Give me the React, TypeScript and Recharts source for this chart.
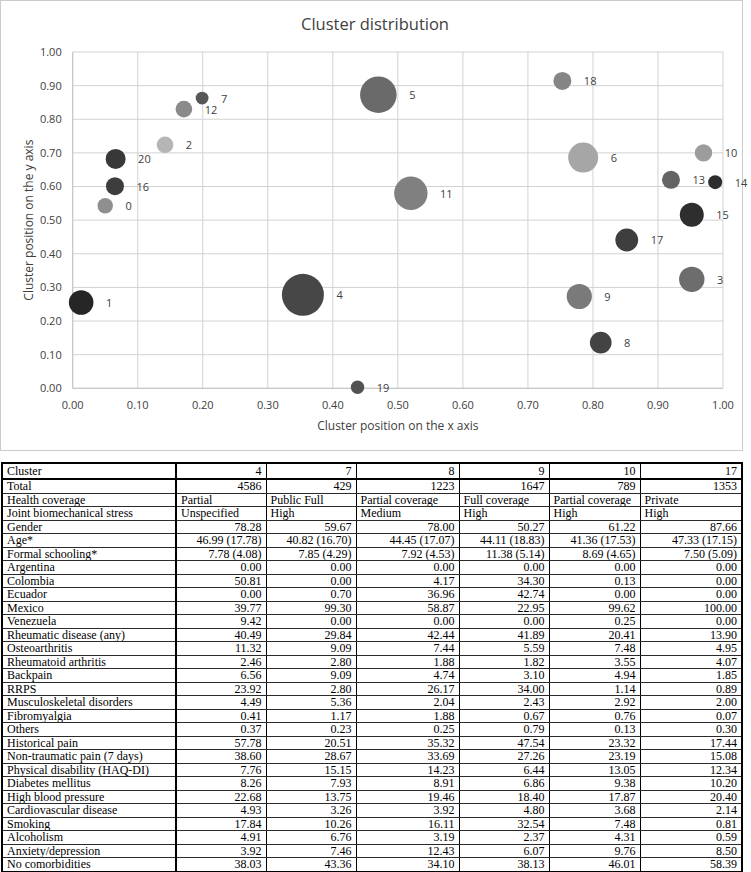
import React from "react";
import {
  ScatterChart,
  Scatter,
  XAxis,
  YAxis,
  ZAxis,
  CartesianGrid,
} from "recharts";

// bubble chart data (cluster id, position, cluster size)
const clusterIds = [0, 1, 2, 3, 4, 5, 6, 7, 8, 9, 10, 11, 12, 13, 14, 15, 16, 17, 18, 19, 20];
const xPosition = [0.05, 0.013, 0.142, 0.952, 0.354, 0.47, 0.785, 0.199, 0.812, 0.779, 0.97, 0.52, 0.171, 0.92, 0.988, 0.952, 0.065, 0.852, 0.753, 0.438, 0.066];
const yPosition = [0.543, 0.255, 0.724, 0.324, 0.278, 0.873, 0.686, 0.863, 0.136, 0.273, 0.7, 0.58, 0.83, 0.62, 0.613, 0.516, 0.601, 0.441, 0.914, 0.003, 0.682];
const clusterSize = [617, 1573, 716, 1677, 4586, 3482, 2340, 429, 1223, 1647, 789, 2900, 716, 842, 510, 1498, 842, 1353, 842, 467, 1040];
const axisTicks = [0, 0.1, 0.2, 0.3, 0.4, 0.5, 0.6, 0.7, 0.8, 0.9, 1];

// table
const tableClusters = ["4", "7", "8", "9", "10", "17"];
const tableRows: [string, string[], boolean][] = [
  ["Total", ["4586", "429", "1223", "1647", "789", "1353"], false],
  ["Health coverage", ["Partial", "Public Full", "Partial coverage", "Full coverage", "Partial coverage", "Private"], true],
  ["Joint biomechanical stress", ["Unspecified", "High", "Medium", "High", "High", "High"], true],
  ["Gender", ["78.28", "59.67", "78.00", "50.27", "61.22", "87.66"], false],
  ["Age*", ["46.99 (17.78)", "40.82 (16.70)", "44.45 (17.07)", "44.11 (18.83)", "41.36 (17.53)", "47.33 (17.15)"], false],
  ["Formal schooling*", ["7.78 (4.08)", "7.85 (4.29)", "7.92 (4.53)", "11.38 (5.14)", "8.69 (4.65)", "7.50 (5.09)"], false],
  ["Argentina", ["0.00", "0.00", "0.00", "0.00", "0.00", "0.00"], false],
  ["Colombia", ["50.81", "0.00", "4.17", "34.30", "0.13", "0.00"], false],
  ["Ecuador", ["0.00", "0.70", "36.96", "42.74", "0.00", "0.00"], false],
  ["Mexico", ["39.77", "99.30", "58.87", "22.95", "99.62", "100.00"], false],
  ["Venezuela", ["9.42", "0.00", "0.00", "0.00", "0.25", "0.00"], false],
  ["Rheumatic disease (any)", ["40.49", "29.84", "42.44", "41.89", "20.41", "13.90"], false],
  ["Osteoarthritis", ["11.32", "9.09", "7.44", "5.59", "7.48", "4.95"], false],
  ["Rheumatoid arthritis", ["2.46", "2.80", "1.88", "1.82", "3.55", "4.07"], false],
  ["Backpain", ["6.56", "9.09", "4.74", "3.10", "4.94", "1.85"], false],
  ["RRPS", ["23.92", "2.80", "26.17", "34.00", "1.14", "0.89"], false],
  ["Musculoskeletal disorders", ["4.49", "5.36", "2.04", "2.43", "2.92", "2.00"], false],
  ["Fibromyalgia", ["0.41", "1.17", "1.88", "0.67", "0.76", "0.07"], false],
  ["Others", ["0.37", "0.23", "0.25", "0.79", "0.13", "0.30"], false],
  ["Historical pain", ["57.78", "20.51", "35.32", "47.54", "23.32", "17.44"], false],
  ["Non-traumatic pain (7 days)", ["38.60", "28.67", "33.69", "27.26", "23.19", "15.08"], false],
  ["Physical disability (HAQ-DI)", ["7.76", "15.15", "14.23", "6.44", "13.05", "12.34"], false],
  ["Diabetes mellitus", ["8.26", "7.93", "8.91", "6.86", "9.38", "10.20"], false],
  ["High blood pressure", ["22.68", "13.75", "19.46", "18.40", "17.87", "20.40"], false],
  ["Cardiovascular disease", ["4.93", "3.26", "3.92", "4.80", "3.68", "2.14"], false],
  ["Smoking", ["17.84", "10.26", "16.11", "32.54", "7.48", "0.81"], false],
  ["Alcoholism", ["4.91", "6.76", "3.19", "2.37", "4.31", "0.59"], false],
  ["Anxiety/depression", ["3.92", "7.46", "12.43", "6.07", "9.76", "8.50"], false],
  ["No comorbidities", ["38.03", "43.36", "34.10", "38.13", "46.01", "58.39"], false],
];

const BUBBLE_FILLS = [
  "#8f8f8f", "#262626", "#b5b5b5", "#6d6d6d", "#474747", "#6a6a6a", "#a6a6a6",
  "#575757", "#434343", "#7a7a7a", "#9c9c9c", "#808080", "#8a8a8a", "#646464",
  "#2d2d2d", "#2e2e2e", "#3d3d3d", "#3e3e3e", "#858585", "#525252", "#383838",
];
const COL_WIDTHS = [174, 90, 90, 103, 90, 91, 102];
const SANS = '"Open Sans", sans-serif';
const SERIF = '"Liberation Serif", "Times New Roman", serif';

const bubbles = clusterIds.map((id, i) => ({
  id,
  x: xPosition[i],
  y: yPosition[i],
  size: clusterSize[i],
}));

const MAX_RADIUS = 21;

function Bubble(props: any) {
  const { cx, cy, size, width, payload } = props;
  const r = size != null ? Math.sqrt(size / Math.PI) : width / 2;
  return (
    <g>
      <circle cx={cx} cy={cy} r={r} fill={BUBBLE_FILLS[payload.id]} />
      <text
        x={cx + r + 12.5}
        y={cy}
        dominantBaseline="central"
        fontFamily={SANS}
        fontSize={11}
        fill="#404040"
      >
        {payload.id}
      </text>
    </g>
  );
}

const fmt = (v: number) => v.toFixed(2);

function ClusterChart() {
  return (
    <div style={{ position: "absolute", left: 0, top: 0, width: 751, height: 451 }}>
      <div
        style={{
          position: "absolute",
          left: 0,
          top: 0,
          width: 743,
          height: 451,
          boxSizing: "border-box",
          border: "1.5px solid #cbcbcb",
          background: "#fff",
        }}
      />
      <div
        style={{
          position: "absolute",
          left: 0,
          width: 750,
          top: 12,
          textAlign: "center",
          fontFamily: SANS,
          fontSize: 16.5,
          color: "#404040",
        }}
      >
        Cluster distribution
      </div>
      <ScatterChart
        width={751}
        height={451}
        margin={{ top: 52, right: 28, bottom: 0, left: 0 }}
        style={{ position: "absolute", left: 0, top: 0, overflow: "visible" }}
      >
        <CartesianGrid stroke="#d2d2d2" strokeWidth={1} />
        <XAxis
          type="number"
          dataKey="x"
          domain={[0, 1]}
          ticks={axisTicks}
          tickFormatter={fmt}
          height={62.7}
          tickSize={0}
          tickMargin={13}
          axisLine={{ stroke: "#c4c4c4" }}
          tick={{ fontFamily: SANS, fontSize: 11, fill: "#404040" }}
          label={{
            content: (p: any) => {
              const vb = p.viewBox;
              return (
                <text
                  x={vb.x + vb.width / 2}
                  y={vb.y + 37}
                  textAnchor="middle"
                  dominantBaseline="central"
                  fontFamily={SANS}
                  fontSize={12}
                  fill="#404040"
                >
                  Cluster position on the x axis
                </text>
              );
            },
          }}
        />
        <YAxis
          type="number"
          dataKey="y"
          domain={[0, 1]}
          ticks={axisTicks}
          tickFormatter={fmt}
          width={72.7}
          tickSize={0}
          tickMargin={11}
          axisLine={{ stroke: "#c4c4c4" }}
          tick={{ fontFamily: SANS, fontSize: 11, fill: "#404040" }}
          label={{
            content: (p: any) => {
              const vb = p.viewBox;
              const cx = 28.5;
              const cy = vb.y + vb.height / 2;
              return (
                <text
                  x={cx}
                  y={cy}
                  textAnchor="middle"
                  dominantBaseline="central"
                  transform={`rotate(-90 ${cx} ${cy})`}
                  fontFamily={SANS}
                  fontSize={12}
                  fill="#404040"
                >
                  Cluster position on the y axis
                </text>
              );
            },
          }}
        />
        <ZAxis
          type="number"
          dataKey="size"
          domain={[0, 4586]}
          range={[0, Math.PI * MAX_RADIUS * MAX_RADIUS]}
        />
        <Scatter data={bubbles} shape={Bubble} isAnimationActive={false} />
      </ScatterChart>
    </div>
  );
}

function DataTable() {
  const cell = (extra: React.CSSProperties): React.CSSProperties => ({
    padding: "0 4px",
    height: 12.5,
    lineHeight: "12px",
    whiteSpace: "nowrap",
    overflow: "hidden",
    borderBottom: "1px solid #2a2a2a",
    borderRight: "1px solid #000",
    ...extra,
  });
  return (
    <table
      style={{
        position: "absolute",
        left: 1,
        top: 462,
        width: 742,
        borderCollapse: "collapse",
        tableLayout: "fixed",
        border: "2px solid #000",
        fontFamily: SERIF,
        fontSize: 12,
        color: "#000",
      }}
    >
      <colgroup>
        {COL_WIDTHS.map((w, i) => (
          <col key={i} style={{ width: w }} />
        ))}
      </colgroup>
      <tbody>
        <tr>
          <td style={cell({ borderBottom: "2px solid #000", borderRight: "2px solid #000", height: 14 })}>
            Cluster
          </td>
          {tableClusters.map((c) => (
            <td key={c} style={cell({ borderBottom: "2px solid #000", textAlign: "right", height: 14 })}>
              {c}
            </td>
          ))}
        </tr>
        {tableRows.map(([label, vals, leftAlign]) => (
          <tr key={label}>
            <td style={cell({ borderRight: "2px solid #000" })}>{label}</td>
            {vals.map((v, j) => (
              <td key={j} style={cell({ textAlign: leftAlign ? "left" : "right" })}>
                {v}
              </td>
            ))}
          </tr>
        ))}
      </tbody>
    </table>
  );
}

export default function App() {
  return (
    <div
      style={{
        position: "absolute",
        left: 0,
        top: 0,
        width: 751,
        height: 872,
        background: "#fff",
        overflow: "hidden",
      }}
    >
      <ClusterChart />
      <DataTable />
    </div>
  );
}
